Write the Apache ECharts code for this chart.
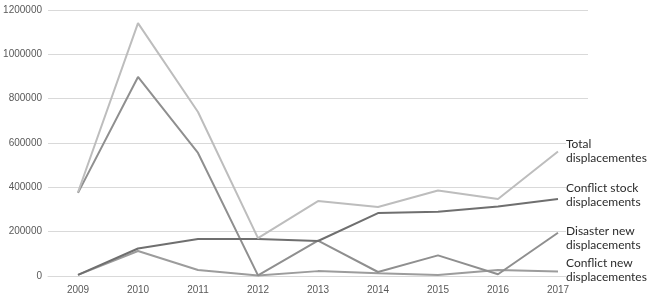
<!DOCTYPE html>
<html><head><meta charset="utf-8">
<script src="https://cdn.jsdelivr.net/npm/echarts@6/dist/echarts.min.js"></script>
<style>html,body{margin:0;padding:0;background:#fff}#c{width:650px;height:297px}</style>
</head><body><div id="c"></div>
<script>
const years = ['2009','2010','2011','2012','2013','2014','2015','2016','2017'];
const totalDisp = [378000, 1141000, 740000, 171000, 338000, 311000, 386000, 347000, 562000];
const conflictStock = [5000, 124000, 167000, 167000, 158000, 284000, 290000, 314000, 347000];
const disasterNew = [375000, 898000, 555000, 3000, 160000, 18000, 93000, 8000, 195000];
const conflictNew = [5000, 113000, 27000, 2000, 22000, 12000, 5000, 27000, 20000];

const seriesNames = ['Total\ndisplacementes', 'Conflict stock\ndisplacements', 'Disaster new\ndisplacements', 'Conflict new\ndisplacementes'];
const seriesData = [totalDisp, conflictStock, disasterNew, conflictNew];
const colors = ['#bdbdbd', '#6f6f6f', '#8f8f8f', '#9c9c9c'];
const labelOffsets = [[0, 0], [0, -4], [0, 5], [0, -1]];

const chart = echarts.init(document.getElementById('c'), null, {renderer: 'canvas'});
chart.setOption({
  animation: false,
  grid: {left: 48, right: 62, top: 10, bottom: 21, containLabel: false},
  xAxis: {
    type: 'category', data: years, boundaryGap: true,
    axisLine: {lineStyle: {color: '#d9d9d9', width: 1}},
    axisTick: {show: false},
    axisLabel: {color: '#595959', fontSize: 10, fontFamily: 'Liberation Sans', margin: 9}
  },
  yAxis: {
    type: 'value', min: 0, max: 1200000, interval: 200000,
    axisLine: {show: false}, axisTick: {show: false},
    splitLine: {lineStyle: {color: '#d9d9d9', width: 1}},
    axisLabel: {color: '#595959', fontSize: 10, fontFamily: 'Liberation Sans', margin: 6,
      formatter: v => String(v)}
  },
  series: seriesData.map((d, i) => ({
    name: seriesNames[i], type: 'line', data: d,
    symbol: 'none', z: 10 - i,
    lineStyle: {color: colors[i], width: 2},
    endLabel: {
      show: true, formatter: seriesNames[i], color: '#2b2b2b',
      fontFamily: 'Lato', fontSize: 12, lineHeight: 14,
      align: 'left', distance: 8, offset: labelOffsets[i],
      backgroundColor: '#ffffff', padding: [0, 4, 0, 0]
    }
  }))
});
</script></body></html>
